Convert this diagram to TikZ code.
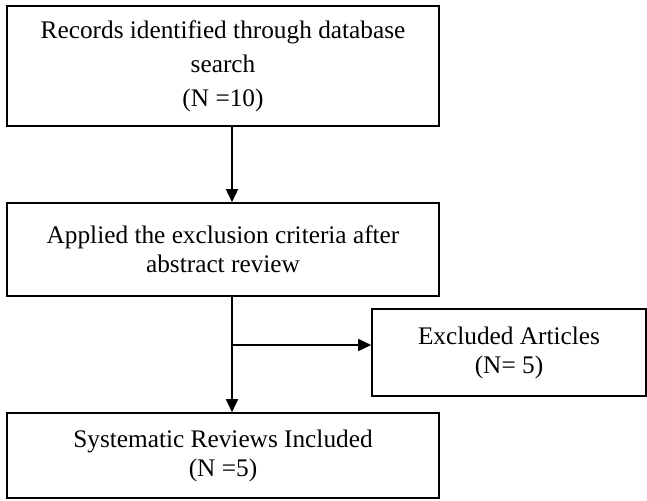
\documentclass[tikz,border=0pt]{standalone}
\usepackage{fontspec}
\setmainfont{Liberation Serif}
\usetikzlibrary{arrows.meta}
\begin{document}
\begin{tikzpicture}[x=1pt,y=-1pt,
  box/.style={draw, line width=1.6pt, align=center, inner sep=0pt,
    font=\fontsize{25.3}{29}\selectfont},
  arr/.style={line width=1.6pt, -{Triangle[length=13pt,width=12pt]}}]
\useasboundingbox (0,0) rectangle (647,500);
\node[box, minimum width=432pt, minimum height=120pt,
  font=\fontsize{25.3}{34}\selectfont] (rec) at (223,66)
  {Records identified through database\\search\\(N =10)};
\node[box, minimum width=432pt, minimum height=93pt] (app) at (223,249.5)
  {Applied the exclusion criteria after\\abstract review};
\node[box, minimum width=274pt, minimum height=87pt] (exc) at (509,352.5)
  {Excluded Articles\\(N= 5)};
\node[box, minimum width=432pt, minimum height=85pt] (sys) at (223,455.5)
  {Systematic Reviews Included\\(N =5)};
\coordinate (tx) at (232,0);
\coordinate (br) at (232,345);
\draw[arr] (rec.south -| tx) -- (app.north -| tx);
\draw[arr] (app.south -| tx) -- (sys.north -| tx);
\draw[arr] (br) -- (exc.west |- br);
\end{tikzpicture}
\end{document}
